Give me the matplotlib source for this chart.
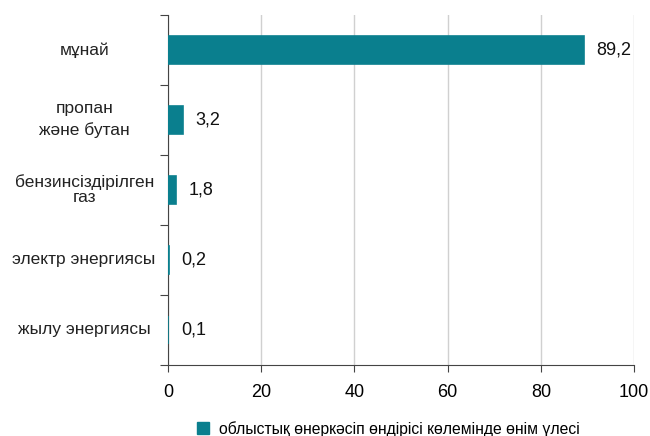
import matplotlib.pyplot as plt
from matplotlib.patches import Patch

plt.rcParams['font.family'] = ['Liberation Sans', 'DejaVu Sans']

categories = ['мұнай', 'пропан\nжәне бутан', 'бензинсіздірілген\nгаз', 'электр энергиясы', 'жылу энергиясы']
values = [89.2, 3.2, 1.8, 0.2, 0.1]
value_labels = ['89,2', '3,2', '1,8', '0,2', '0,1']
legend_label = 'облыстық өнеркәсіп өндірісі көлемінде өнім үлесі'
bar_color = '#0a7f8e'

fig = plt.figure(figsize=(6.5, 4.36), dpi=100)
ax = fig.add_axes([0.2585, 0.163, 0.717, 0.803])

pos = list(range(len(categories)))
ax.barh(pos, values, height=0.4, color=bar_color, edgecolor=bar_color,
        linewidth=1.2, zorder=3)
ax.set_ylim(len(categories) - 0.5, -0.5)
ax.set_xlim(0, 100)
ax.set_xticks(range(0, 101, 20))
ax.tick_params(axis='x', labelsize=13, length=5, color='#444444', pad=9)

# y ticks at the category boundaries, labels as free text
ax.set_yticks([p - 0.5 for p in pos] + [len(categories) - 0.5])
ax.set_yticklabels([])
ax.tick_params(axis='y', length=6, color='#444444')
for p, name in zip(pos, categories):
    ax.text(-0.18, p, name, transform=ax.get_yaxis_transform(), ha='center', va='center',
            multialignment='center', fontsize=12.5, color='#222222',
            linespacing=1.5 if name.startswith('пропан') else 1.0)

for p, v, lab in zip(pos, values, value_labels):
    ax.annotate(lab, (v, p), xytext=(9, 0), textcoords='offset points',
                ha='left', va='center', fontsize=13, color='#111111')

ax.grid(axis='x', color='#d0d0d0', linewidth=1, zorder=0)
for s in ['top', 'right']:
    ax.spines[s].set_visible(False)
ax.spines['left'].set_color('#444444')
ax.spines['bottom'].set_color('#444444')
ax.spines['left'].set_zorder(2)

fig.legend(handles=[Patch(color=bar_color)], labels=[legend_label], loc='center',
           bbox_to_anchor=(0.597, 0.016), frameon=False, fontsize=11.3,
           handlelength=0.8, handleheight=0.8, handletextpad=0.6)

fig.savefig('out.png', dpi=100)
